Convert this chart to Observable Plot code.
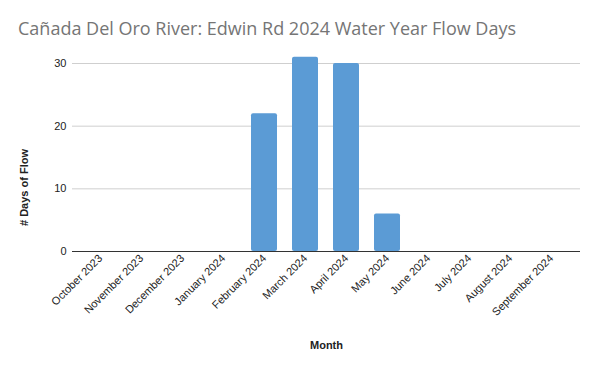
<!DOCTYPE html>
<html>
<head>
<meta charset="utf-8">
<script src="https://cdn.jsdelivr.net/npm/d3@7"></script>
<script src="https://cdn.jsdelivr.net/npm/@observablehq/plot@0.6"></script>
<style>
  html, body { margin: 0; padding: 0; background: #fff; }
  #title { height: 40px; box-sizing: border-box; padding: 17px 0 0 18px; font-family: "Open Sans", sans-serif; font-size: 18px; line-height: 22px; color: #757575; white-space: nowrap; }
  #chart svg { display: block; }
</style>
</head>
<body>
<div id="title">Cañada Del Oro River: Edwin Rd 2024 Water Year Flow Days</div>
<div id="chart"></div>
<script>
const months = ["October 2023","November 2023","December 2023","January 2024","February 2024","March 2024","April 2024","May 2024","June 2024","July 2024","August 2024","September 2024"];
const flowDays = [0,0,0,0,22,31,30,6,0,0,0,0];
const yTicks = [0,10,20,30];
const xLabel = "Month";
const yLabel = "# Days of Flow";

const data = months.map((m, i) => ({month: m, days: flowDays[i]}));

const chart = Plot.plot({
  width: 600,
  height: 331,
  marginLeft: 72,
  marginRight: 20,
  marginTop: 23,
  marginBottom: 120,
  style: {fontFamily: "'Liberation Sans', sans-serif", fontSize: "11px", color: "#222"},
  x: {domain: months, padding: 0.36, label: null},
  y: {domain: [0, 30], label: null},
  marks: [
    Plot.gridY(yTicks, {stroke: "#cfcfcf", strokeOpacity: 1}),
    Plot.axisY(yTicks, {tickSize: 0, tickPadding: 6, label: null, fontSize: 11}),
    Plot.barY(data, {x: "month", y: "days", fill: "#5b9bd5", rx: 2}),
    Plot.ruleY([0], {stroke: "#333"}),
    Plot.axisX({tickSize: 0, tickPadding: 5, tickRotate: -45, label: null, fontSize: 11}),
    Plot.text([xLabel], {frameAnchor: "bottom", dy: 97, text: d => d, fontSize: 11, fontWeight: "bold"}),
    Plot.text([yLabel], {frameAnchor: "left", textAnchor: "middle", dx: -48, dy: 30, rotate: -90, text: d => d, fontSize: 11, fontWeight: "bold"})
  ]
});
document.getElementById("chart").appendChild(chart);
</script>
</body>
</html>
